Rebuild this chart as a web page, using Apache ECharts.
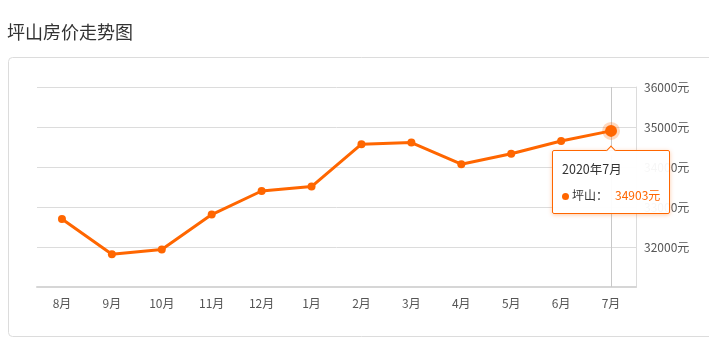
<!DOCTYPE html>
<html><head><meta charset="utf-8">
<script src="https://cdn.jsdelivr.net/npm/echarts@6/dist/echarts.min.js"></script>
<style>html,body{margin:0;padding:0;background:#fff;}#c{width:709px;height:339px;}</style>
</head><body><div id="c"></div>
<script>
const titleText = '坪山房价走势图';
const seriesName = '坪山';
const year = 2020;
const categories = ['8月','9月','10月','11月','12月','1月','2月','3月','4月','5月','6月','7月'];
const prices = [32700, 31820, 31940, 32810, 33400, 33510, 34570, 34610, 34070, 34330, 34650, 34903];
const yMin = 31000, yMax = 36000, yStep = 1000;
const FONT = '"Microsoft YaHei","Noto Sans CJK SC",sans-serif';
const ORANGE = '#ff6600';

const chart = echarts.init(document.getElementById('c'), null, {renderer:'canvas'});
const lastIdx = prices.length - 1;
const data = prices.map((v, i) => i === lastIdx ? {
  value: v, symbolSize: 12,
  itemStyle: {color: ORANGE, borderColor: 'rgba(255,102,0,0.25)', borderWidth: 6}
} : v);

chart.setOption({
  animation: false,
  textStyle: {fontFamily: FONT},
  title: {text: titleText, left: 2, top: 18, textStyle: {fontSize: 18, fontWeight: 'normal', color: '#333', fontFamily: FONT}},
  graphic: [{type: 'rect', silent: true, z: -1,
    shape: {x: 8.5, y: 57.5, width: 730, height: 279, r: 4},
    style: {fill: 'none', stroke: '#dcdcdc', lineWidth: 1}}],
  grid: {left: 37, right: 73, top: 87, bottom: 52},
  tooltip: {
    trigger: 'item', position: 'bottom', alwaysShowContent: true, transitionDuration: 0,
    backgroundColor: 'rgba(255,255,255,0.95)', borderColor: ORANGE, borderWidth: 1, padding: [8, 9],
    extraCssText: 'border:1px solid ' + ORANGE + ' !important;box-shadow:0 1px 4px rgba(255,102,0,0.35) !important;border-radius:2px;',
    textStyle: {fontSize: 12, color: '#333', fontFamily: FONT},
    formatter: p => '<div style="line-height:20px;font-size:12.5px">' + year + '年' + p.name + '</div>' +
      '<div style="line-height:20px;margin-top:6px"><span style="display:inline-block;width:7px;height:7px;border-radius:50%;background:' + ORANGE + ';margin-right:3px;vertical-align:middle"></span>' +
      seriesName + '：<span style="color:' + ORANGE + ';margin-left:7px">' + p.value + '元</span></div>'
  },
  xAxis: {
    type: 'category', data: categories, boundaryGap: true,
    axisLine: {lineStyle: {color: '#d6d6d6', width: 2}},
    axisTick: {alignWithLabel: true, length: 4, lineStyle: {color: '#d6d6d6'}},
    axisLabel: {color: '#555', fontSize: 12, margin: 10}
  },
  yAxis: {
    type: 'value', position: 'right', min: yMin, max: yMax, interval: yStep,
    axisLine: {show: true, lineStyle: {color: '#dcdcdc'}},
    axisTick: {show: false},
    axisLabel: {color: '#555', fontSize: 12, margin: 8, showMinLabel: false, formatter: v => v + '元'},
    splitLine: {lineStyle: {color: '#dcdcdc'}}
  },
  series: [{
    name: seriesName, type: 'line', data: data,
    symbol: 'circle', symbolSize: 8, z: 3,
    lineStyle: {color: ORANGE, width: 3},
    itemStyle: {color: ORANGE},
    markLine: {silent: true, symbol: 'none', z: 1, label: {show: false},
      lineStyle: {color: '#c8c8c8', width: 1, type: 'solid'},
      data: [{xAxis: categories[lastIdx]}]}
  }]
});
chart.dispatchAction({type: 'showTip', seriesIndex: 0, dataIndex: lastIdx});
</script></body></html>
